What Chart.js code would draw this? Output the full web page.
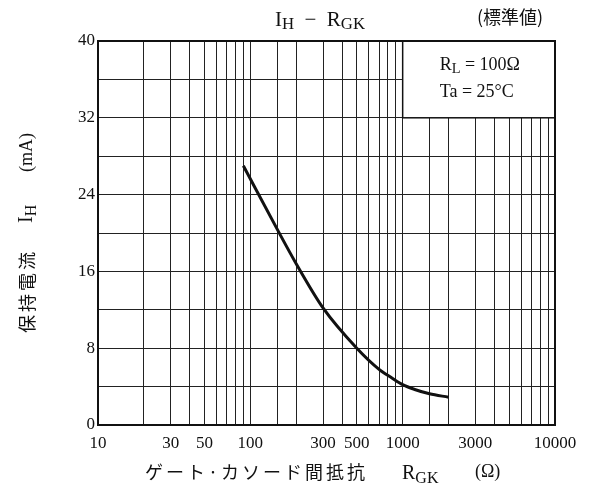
<!DOCTYPE html>
<html>
<head>
<meta charset="utf-8">
<script src="https://cdn.jsdelivr.net/npm/chart.js@4"></script>
<style>
  html, body { margin: 0; padding: 0; background: #fff; }
  #wrap { width: 590px; height: 494px; }
</style>
</head>
<body>
<div id="wrap"><canvas id="ihChart" width="590" height="494"></canvas></div>
<script>
const rgk = [90, 150, 200, 300, 500, 700, 850, 1000, 1200, 1500, 2000];
const ih = [27, 20.4, 16.8, 12.2, 8.0, 5.8, 4.9, 4.2, 3.7, 3.25, 2.9];
const xLabels = [10, 30, 50, 100, 300, 500, 1000, 3000, 10000];
const yLabels = [0, 8, 16, 24, 32, 40];

const SERIF = '"Liberation Serif", "DejaVu Serif", serif';
const JP = '"Noto Sans CJK JP", sans-serif';

// draw text with a subscript part
function subText(c, x, y, parts, size) {
    let cx = x;
    parts.forEach(p => {
        const s = p.sub ? size * 0.8 : size;
        c.font = s + 'px ' + (p.jp ? JP : SERIF);
        c.fillText(p.t, cx, p.sub ? y + size * 0.22 : y);
        cx += c.measureText(p.t).width;
    });
    return cx;
}
function subWidth(c, parts, size) {
    let w = 0;
    parts.forEach(p => {
        const s = p.sub ? size * 0.8 : size;
        c.font = s + 'px ' + (p.jp ? JP : SERIF);
        w += c.measureText(p.t).width;
    });
    return w;
}

const decor = {
    id: 'decor',
    afterDatasetsDraw(chart) {
        const c = chart.ctx;
        const xs = chart.scales.x, ys = chart.scales.y;
        const a = chart.chartArea;
        c.save();
        // condition box
        const bx = xs.getPixelForValue(1000), by = ys.getPixelForValue(32);
        c.fillStyle = '#fff';
        c.fillRect(bx, a.top, a.right - bx, by - a.top);
        c.strokeStyle = '#111';
        c.lineWidth = 1.5;
        c.strokeRect(bx, a.top, a.right - bx, by - a.top);
        // frame
        c.lineWidth = 2;
        c.strokeRect(a.left, a.top, a.right - a.left, a.bottom - a.top);

        c.fillStyle = '#111';
        c.textBaseline = 'middle';
        c.textAlign = 'left';
        subText(c, bx + 37, a.top + 24, [{t: 'R'}, {t: 'L', sub: true}, {t: ' = 100Ω'}], 18);
        subText(c, bx + 37, a.top + 51, [{t: 'Ta = 25°C'}], 18);

        // title
        const tp = [{t: 'I'}, {t: 'H', sub: true}, {t: '  −  R'}, {t: 'GK', sub: true}];
        const tw = subWidth(c, tp, 21);
        subText(c, 320 - tw / 2, 20, tp, 21);
        c.font = '18px ' + JP;
        c.fillText('(標準値)', 477, 17);

        // x title
        c.letterSpacing = '3px';
        subText(c, 145, 472, [{t: 'ゲート·カソード間抵抗', jp: true}], 18);
        c.letterSpacing = '0px';
        subText(c, 402, 474, [{t: 'R'}, {t: 'GK', sub: true}], 20);
        subText(c, 475, 472, [{t: '(Ω)'}], 18);

        // y title, rotated
        c.translate(27, 228);
        c.rotate(-Math.PI / 2);
        c.letterSpacing = '3px';
        subText(c, -105, 0, [{t: '保持電流', jp: true}], 18);
        c.letterSpacing = '0px';
        subText(c, 5, 0, [{t: 'I'}, {t: 'H', sub: true}], 20);
        subText(c, 56, 0, [{t: '(mA)'}], 18);
        c.restore();
    }
};

const ctx = document.getElementById('ihChart');
const ihChart = new Chart(ctx, {
    type: 'line',
    data: {
        datasets: [{
            data: rgk.map((v, i) => ({x: v, y: ih[i]})),
            borderColor: '#111',
            borderWidth: 3,
            pointRadius: 0,
            cubicInterpolationMode: 'monotone',
            fill: false,
        }]
    },
    options: {
        responsive: false,
        animation: false,
        layout: { padding: { left: 0, right: 35, top: 41, bottom: 0 } },
        plugins: { legend: { display: false }, tooltip: { enabled: false } },
        scales: {
            x: {
                type: 'logarithmic',
                min: 10,
                max: 10000,
                border: { display: false },
                grid: { color: '#222', lineWidth: 1, drawTicks: false },
                afterFit: s => { s.height = 69; },
                ticks: {
                    autoSkip: false,
                    maxRotation: 0,
                    padding: 8,
                    color: '#111',
                    font: { family: SERIF, size: 17 },
                    callback: v => xLabels.includes(v) ? String(v) : ''
                }
            },
            y: {
                min: 0,
                max: 40,
                border: { display: false },
                grid: { color: '#222', lineWidth: 1, drawTicks: false },
                afterFit: s => { s.width = 98; },
                ticks: {
                    stepSize: 4,
                    padding: 3,
                    color: '#111',
                    font: { family: SERIF, size: 17 },
                    callback: v => yLabels.includes(v) ? String(v) : ''
                }
            }
        }
    },
    plugins: [decor]
});
</script>
</body>
</html>
